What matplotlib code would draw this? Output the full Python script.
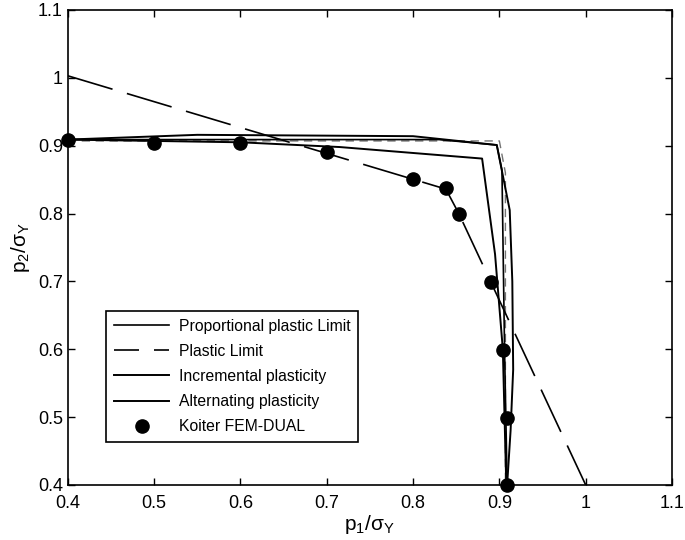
import matplotlib
matplotlib.use('Agg')
import matplotlib.pyplot as plt

plt.rcParams['font.family'] = ['Liberation Sans', 'DejaVu Sans']
plt.rcParams['mathtext.fontset'] = 'custom'
plt.rcParams['mathtext.rm'] = 'Liberation Sans'

# 数据
prop_p1 = [0.4, 0.83, 0.897, 0.903, 0.906, 0.909]
prop_p2 = [0.909, 0.909, 0.901, 0.864, 0.6, 0.4]

plim_p1 = [0.4, 0.838, 0.853, 1.0]
plim_p2 = [1.003, 0.836, 0.800, 0.4]

incr_p1 = [0.4, 0.55, 0.8, 0.897, 0.912, 0.915, 0.916, 0.913, 0.909]
incr_p2 = [0.909, 0.916, 0.914, 0.901, 0.805, 0.7, 0.57, 0.48, 0.4]

alt_p1 = [0.4, 0.6, 0.715, 0.88, 0.895, 0.904, 0.908]
alt_p2 = [0.909, 0.905, 0.898, 0.881, 0.74, 0.6, 0.4]

# 细灰虚线
grey_p1 = [0.4, 0.9, 0.907, 0.907]
grey_p2 = [0.907, 0.907, 0.86, 0.4]

koiter_p1 = [0.4, 0.5, 0.6, 0.7, 0.8, 0.838, 0.853, 0.89, 0.904, 0.909, 0.909]
koiter_p2 = [0.908, 0.904, 0.904, 0.89, 0.851, 0.837, 0.8, 0.699, 0.599, 0.499, 0.4]

ticks = [0.4, 0.5, 0.6, 0.7, 0.8, 0.9, 1.0, 1.1]
tick_labels = ['0.4', '0.5', '0.6', '0.7', '0.8', '0.9', '1', '1.1']

fig = plt.figure(figsize=(6.85, 5.4), dpi=100)
ax = fig.add_axes([0.099, 0.102, 0.882, 0.8795])

ax.plot(grey_p1, grey_p2, color='0.45', lw=1.0, dashes=(6, 4), label='_nolegend_')
ax.plot(prop_p1, prop_p2, 'k-', lw=1.2, label='Proportional plastic Limit')
ax.plot(plim_p1, plim_p2, 'k-', lw=1.2, dashes=(28, 9), label='Plastic Limit')
ax.plot(incr_p1, incr_p2, 'k-', lw=1.4, label='Incremental plasticity')
ax.plot(alt_p1, alt_p2, 'k-', lw=1.4, label='Alternating plasticity')
ax.plot(koiter_p1, koiter_p2, 'ko', ms=9.5, ls='none', label='Koiter FEM-DUAL', clip_on=False, zorder=5)

ax.set_xlim(0.4, 1.1)
ax.set_ylim(0.4, 1.1)
ax.set_xticks(ticks)
ax.set_xticklabels(tick_labels)
ax.set_yticks(ticks)
ax.set_yticklabels(tick_labels)
ax.tick_params(direction='in', top=True, right=True, labelsize=13, length=5, width=1)
ax.tick_params(axis='x', pad=7)
for s in ax.spines.values():
    s.set_linewidth(1.2)

ax.set_xlabel(r'p$_\mathregular{1}$/σ$_\mathregular{Y}$', fontsize=15, labelpad=1)
ax.set_ylabel(r'p$_\mathregular{2}$/σ$_\mathregular{Y}$', fontsize=15, labelpad=4)

leg = ax.legend(loc='lower left', bbox_to_anchor=(0.064, 0.09), fontsize=11.3,
                handlelength=3.5, handletextpad=0.6, numpoints=1, fancybox=False,
                framealpha=1, edgecolor='k', borderpad=0.5, labelspacing=0.65,
                borderaxespad=0)
leg.get_frame().set_linewidth(1.2)
leg.get_lines()[1].set_dashes((15, 9))

fig.savefig('out.png', dpi=100)
